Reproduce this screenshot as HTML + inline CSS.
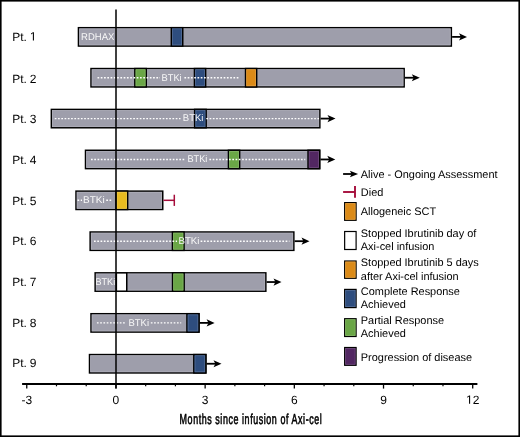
<!DOCTYPE html>
<html><head><meta charset="utf-8"><style>
html,body{margin:0;padding:0;background:#fff;}
body{width:520px;height:437px;overflow:hidden;}
svg{display:block;will-change:transform;text-rendering:geometricPrecision;font-family:"Liberation Sans",sans-serif;}
</style></head><body>
<svg width="520" height="437" viewBox="0 0 520 437">
<rect width="520" height="437" fill="#fff"/>
<rect x="78.45" y="27.70" width="372.90" height="18.35" fill="#9e9eab" stroke="#000" stroke-width="1.5"/>
<rect x="79.60" y="28.85" width="370.60" height="16.05" fill="none" stroke="#afafba" stroke-width="0.8"/>
<rect x="171.35" y="27.70" width="11.40" height="18.35" fill="#2e4d7e" stroke="#000" stroke-width="1.5"/>
<rect x="172.50" y="28.85" width="9.10" height="16.05" fill="none" stroke="#546d95" stroke-width="0.8"/>
<line x1="452.10" y1="36.88" x2="464.00" y2="36.88" stroke="#000" stroke-width="1.8"/>
<path d="M467.00,36.88 L459.00,33.27 L460.90,36.88 L459.00,40.48 Z" fill="#000"/>
<text x="12.25" y="40.50" font-size="12" fill="#000" >Pt.</text>
<path d="M515,0V1237L197,1010V1180L530,1409H696V0Z" fill="#000" transform="translate(29.856 40.500) scale(0.005859 -0.005859)"/>
<rect x="91.00" y="68.56" width="313.15" height="18.35" fill="#9e9eab" stroke="#000" stroke-width="1.5"/>
<rect x="92.15" y="69.71" width="310.85" height="16.05" fill="none" stroke="#afafba" stroke-width="0.8"/>
<rect x="134.85" y="68.56" width="11.40" height="18.35" fill="#6aa646" stroke="#000" stroke-width="1.5"/>
<rect x="136.00" y="69.71" width="9.10" height="16.05" fill="none" stroke="#85b667" stroke-width="0.8"/>
<rect x="194.45" y="68.56" width="11.20" height="18.35" fill="#2e4d7e" stroke="#000" stroke-width="1.5"/>
<rect x="195.60" y="69.71" width="8.90" height="16.05" fill="none" stroke="#546d95" stroke-width="0.8"/>
<rect x="245.55" y="68.56" width="11.10" height="18.35" fill="#db8a17" stroke="#000" stroke-width="1.5"/>
<rect x="246.70" y="69.71" width="8.80" height="16.05" fill="none" stroke="#e19f41" stroke-width="0.8"/>
<line x1="404.90" y1="77.73" x2="416.80" y2="77.73" stroke="#000" stroke-width="1.8"/>
<path d="M419.80,77.73 L411.80,74.14 L413.70,77.73 L411.80,81.33 Z" fill="#000"/>
<text x="12.25" y="82.85" font-size="12" fill="#000" word-spacing="-0.4">Pt. 2</text>
<rect x="51.35" y="109.42" width="268.50" height="18.35" fill="#9e9eab" stroke="#000" stroke-width="1.5"/>
<rect x="52.50" y="110.57" width="266.20" height="16.05" fill="none" stroke="#afafba" stroke-width="0.8"/>
<rect x="194.65" y="109.42" width="11.50" height="18.35" fill="#2e4d7e" stroke="#000" stroke-width="1.5"/>
<rect x="195.80" y="110.57" width="9.20" height="16.05" fill="none" stroke="#546d95" stroke-width="0.8"/>
<line x1="320.60" y1="118.59" x2="332.50" y2="118.59" stroke="#000" stroke-width="1.8"/>
<path d="M335.50,118.59 L327.50,115.00 L329.40,118.59 L327.50,122.19 Z" fill="#000"/>
<text x="12.25" y="123.20" font-size="12" fill="#000" word-spacing="-0.4">Pt. 3</text>
<rect x="85.50" y="150.28" width="234.15" height="18.35" fill="#9e9eab" stroke="#000" stroke-width="1.5"/>
<rect x="86.65" y="151.43" width="231.85" height="16.05" fill="none" stroke="#afafba" stroke-width="0.8"/>
<rect x="228.45" y="150.28" width="11.20" height="18.35" fill="#6aa646" stroke="#000" stroke-width="1.5"/>
<rect x="229.60" y="151.43" width="8.90" height="16.05" fill="none" stroke="#85b667" stroke-width="0.8"/>
<rect x="308.05" y="150.28" width="11.60" height="18.35" fill="#522762" stroke="#000" stroke-width="1.5"/>
<rect x="309.20" y="151.43" width="9.30" height="16.05" fill="none" stroke="#714e7e" stroke-width="0.8"/>
<line x1="320.40" y1="159.46" x2="332.30" y2="159.46" stroke="#000" stroke-width="1.8"/>
<path d="M335.30,159.46 L327.30,155.86 L329.20,159.46 L327.30,163.06 Z" fill="#000"/>
<text x="12.25" y="163.85" font-size="12" fill="#000" word-spacing="-0.4">Pt. 4</text>
<rect x="76.00" y="191.14" width="86.75" height="18.35" fill="#9e9eab" stroke="#000" stroke-width="1.5"/>
<rect x="77.15" y="192.29" width="84.45" height="16.05" fill="none" stroke="#afafba" stroke-width="0.8"/>
<rect x="116.00" y="191.14" width="11.65" height="18.35" fill="#e8bb20" stroke="#000" stroke-width="1.5"/>
<rect x="117.15" y="192.29" width="9.35" height="16.05" fill="none" stroke="#ecc748" stroke-width="0.8"/>
<line x1="163.50" y1="200.31" x2="175.00" y2="200.31" stroke="#a50d3b" stroke-width="1.5"/>
<line x1="174.30" y1="194.72" x2="174.30" y2="205.91" stroke="#a50d3b" stroke-width="1.5"/>
<text x="12.25" y="204.60" font-size="12" fill="#000" word-spacing="-0.4">Pt. 5</text>
<rect x="90.15" y="232.00" width="203.70" height="18.35" fill="#9e9eab" stroke="#000" stroke-width="1.5"/>
<rect x="91.30" y="233.15" width="201.40" height="16.05" fill="none" stroke="#afafba" stroke-width="0.8"/>
<rect x="172.45" y="232.00" width="11.60" height="18.35" fill="#6aa646" stroke="#000" stroke-width="1.5"/>
<rect x="173.60" y="233.15" width="9.30" height="16.05" fill="none" stroke="#85b667" stroke-width="0.8"/>
<line x1="294.60" y1="241.18" x2="306.50" y2="241.18" stroke="#000" stroke-width="1.8"/>
<path d="M309.50,241.18 L301.50,237.58 L303.40,241.18 L301.50,244.78 Z" fill="#000"/>
<text x="12.25" y="245.45" font-size="12" fill="#000" word-spacing="-0.4">Pt. 6</text>
<rect x="95.15" y="272.86" width="170.70" height="18.35" fill="#9e9eab" stroke="#000" stroke-width="1.5"/>
<rect x="96.30" y="274.01" width="168.40" height="16.05" fill="none" stroke="#afafba" stroke-width="0.8"/>
<rect x="116.35" y="272.86" width="10.40" height="18.35" fill="#ffffff" stroke="#000" stroke-width="1.5"/>
<rect x="172.55" y="272.86" width="11.60" height="18.35" fill="#6aa646" stroke="#000" stroke-width="1.5"/>
<rect x="173.70" y="274.01" width="9.30" height="16.05" fill="none" stroke="#85b667" stroke-width="0.8"/>
<line x1="266.60" y1="282.04" x2="278.50" y2="282.04" stroke="#000" stroke-width="1.8"/>
<path d="M281.50,282.04 L273.50,278.44 L275.40,282.04 L273.50,285.64 Z" fill="#000"/>
<text x="12.25" y="286.05" font-size="12" fill="#000" word-spacing="-0.4">Pt. 7</text>
<rect x="91.00" y="313.72" width="107.95" height="18.35" fill="#9e9eab" stroke="#000" stroke-width="1.5"/>
<rect x="92.15" y="314.87" width="105.65" height="16.05" fill="none" stroke="#afafba" stroke-width="0.8"/>
<rect x="186.95" y="313.72" width="12.00" height="18.35" fill="#2e4d7e" stroke="#000" stroke-width="1.5"/>
<rect x="188.10" y="314.87" width="9.70" height="16.05" fill="none" stroke="#546d95" stroke-width="0.8"/>
<line x1="199.70" y1="322.89" x2="211.60" y2="322.89" stroke="#000" stroke-width="1.8"/>
<path d="M214.60,322.89 L206.60,319.29 L208.50,322.89 L206.60,326.50 Z" fill="#000"/>
<text x="12.25" y="326.90" font-size="12" fill="#000" word-spacing="-0.4">Pt. 8</text>
<rect x="89.50" y="354.58" width="116.35" height="18.35" fill="#9e9eab" stroke="#000" stroke-width="1.5"/>
<rect x="90.65" y="355.73" width="114.05" height="16.05" fill="none" stroke="#afafba" stroke-width="0.8"/>
<rect x="193.85" y="354.58" width="12.00" height="18.35" fill="#2e4d7e" stroke="#000" stroke-width="1.5"/>
<rect x="195.00" y="355.73" width="9.70" height="16.05" fill="none" stroke="#546d95" stroke-width="0.8"/>
<line x1="206.60" y1="363.75" x2="218.50" y2="363.75" stroke="#000" stroke-width="1.8"/>
<path d="M221.50,363.75 L213.50,360.15 L215.40,363.75 L213.50,367.36 Z" fill="#000"/>
<text x="12.25" y="367.25" font-size="12" fill="#000" word-spacing="-0.4">Pt. 9</text>
<text x="81.10" y="39.73" font-size="9.75" fill="#f8f8f8" textLength="33.24" lengthAdjust="spacingAndGlyphs">RDHAX</text>
<line x1="97.50" y1="77.73" x2="160.00" y2="77.73" stroke="#fff" stroke-width="1.4" stroke-dasharray="1.7 1.57"/>
<line x1="184.40" y1="77.73" x2="239.40" y2="77.73" stroke="#fff" stroke-width="1.4" stroke-dasharray="1.7 1.57"/>
<text x="161.50" y="80.58" font-size="9.7" fill="#f8f8f8" textLength="20.20" lengthAdjust="spacingAndGlyphs">BTKi</text>
<line x1="54.75" y1="118.59" x2="180.50" y2="118.59" stroke="#fff" stroke-width="1.4" stroke-dasharray="1.7 1.57"/>
<line x1="206.30" y1="118.59" x2="319.00" y2="118.59" stroke="#fff" stroke-width="1.4" stroke-dasharray="1.7 1.57"/>
<text x="182.80" y="121.44" font-size="9.7" fill="#f8f8f8" textLength="20.60" lengthAdjust="spacingAndGlyphs">BTKi</text>
<line x1="91.00" y1="159.46" x2="185.60" y2="159.46" stroke="#fff" stroke-width="1.4" stroke-dasharray="1.7 1.57"/>
<line x1="209.40" y1="159.46" x2="305.30" y2="159.46" stroke="#fff" stroke-width="1.4" stroke-dasharray="1.7 1.57"/>
<text x="187.40" y="162.31" font-size="9.7" fill="#f8f8f8" textLength="20.00" lengthAdjust="spacingAndGlyphs">BTKi</text>
<line x1="77.50" y1="200.31" x2="82.00" y2="200.31" stroke="#fff" stroke-width="1.4" stroke-dasharray="1.7 1.57"/>
<line x1="106.25" y1="200.31" x2="112.00" y2="200.31" stroke="#fff" stroke-width="1.4" stroke-dasharray="1.7 1.57"/>
<text x="83.00" y="203.16" font-size="9.7" fill="#f8f8f8" textLength="21.67" lengthAdjust="spacingAndGlyphs">BTKi</text>
<line x1="94.00" y1="241.18" x2="177.00" y2="241.18" stroke="#fff" stroke-width="1.4" stroke-dasharray="1.7 1.57"/>
<line x1="200.60" y1="241.18" x2="289.40" y2="241.18" stroke="#fff" stroke-width="1.4" stroke-dasharray="1.7 1.57"/>
<text x="178.50" y="244.03" font-size="9.7" fill="#f8f8f8" textLength="20.97" lengthAdjust="spacingAndGlyphs">BTKi</text>
<text x="95.45" y="284.89" font-size="9.7" fill="#f8f8f8" textLength="19.80" lengthAdjust="spacingAndGlyphs">BTKi</text>
<line x1="96.90" y1="322.89" x2="126.25" y2="322.89" stroke="#fff" stroke-width="1.4" stroke-dasharray="1.7 1.57"/>
<line x1="150.80" y1="322.89" x2="181.20" y2="322.89" stroke="#fff" stroke-width="1.4" stroke-dasharray="1.7 1.57"/>
<text x="128.50" y="325.75" font-size="9.7" fill="#f8f8f8" textLength="20.50" lengthAdjust="spacingAndGlyphs">BTKi</text>
<line x1="116" y1="9.6" x2="116" y2="388.6" stroke="#000" stroke-width="1.5"/>
<line x1="22.1" y1="383.95" x2="477.4" y2="383.95" stroke="#000" stroke-width="2"/>
<line x1="26.76" y1="383" x2="26.76" y2="388.6" stroke="#000" stroke-width="1.3"/>
<text x="26.76" y="403.7" font-size="12" text-anchor="middle">-3</text>
<line x1="56.49" y1="383" x2="56.49" y2="386.3" stroke="#000" stroke-width="1.2"/>
<line x1="86.22" y1="383" x2="86.22" y2="386.3" stroke="#000" stroke-width="1.2"/>
<line x1="115.95" y1="383" x2="115.95" y2="388.6" stroke="#000" stroke-width="1.3"/>
<text x="115.95" y="403.7" font-size="12" text-anchor="middle">0</text>
<line x1="145.68" y1="383" x2="145.68" y2="386.3" stroke="#000" stroke-width="1.2"/>
<line x1="175.41" y1="383" x2="175.41" y2="386.3" stroke="#000" stroke-width="1.2"/>
<line x1="205.14" y1="383" x2="205.14" y2="388.6" stroke="#000" stroke-width="1.3"/>
<text x="205.14" y="403.7" font-size="12" text-anchor="middle">3</text>
<line x1="234.87" y1="383" x2="234.87" y2="386.3" stroke="#000" stroke-width="1.2"/>
<line x1="264.60" y1="383" x2="264.60" y2="386.3" stroke="#000" stroke-width="1.2"/>
<line x1="294.33" y1="383" x2="294.33" y2="388.6" stroke="#000" stroke-width="1.3"/>
<text x="294.33" y="403.7" font-size="12" text-anchor="middle">6</text>
<line x1="324.06" y1="383" x2="324.06" y2="386.3" stroke="#000" stroke-width="1.2"/>
<line x1="353.79" y1="383" x2="353.79" y2="386.3" stroke="#000" stroke-width="1.2"/>
<line x1="383.52" y1="383" x2="383.52" y2="388.6" stroke="#000" stroke-width="1.3"/>
<text x="383.52" y="403.7" font-size="12" text-anchor="middle">9</text>
<line x1="413.25" y1="383" x2="413.25" y2="386.3" stroke="#000" stroke-width="1.2"/>
<line x1="442.98" y1="383" x2="442.98" y2="386.3" stroke="#000" stroke-width="1.2"/>
<line x1="472.71" y1="383" x2="472.71" y2="388.6" stroke="#000" stroke-width="1.3"/>
<path d="M515,0V1237L197,1010V1180L530,1409H696V0Z" fill="#000" transform="translate(466.036 403.700) scale(0.005859 -0.005859)"/>
<text x="472.71" y="403.7" font-size="12">2</text>
<line x1="343.10" y1="174.00" x2="355.10" y2="174.00" stroke="#000" stroke-width="1.8"/>
<path d="M358.10,174.00 L349.90,170.70 L351.60,174.00 L349.90,177.30 Z" fill="#000"/>
<line x1="343.1" y1="192" x2="355" y2="192" stroke="#a50d3b" stroke-width="1.9"/>
<line x1="355" y1="186.1" x2="355" y2="197.8" stroke="#a50d3b" stroke-width="1.9"/>
<rect x="344.65" y="202.60" width="11.45" height="17.70" fill="#db8a17" stroke="#000" stroke-width="1.2"/>
<rect x="345.65" y="203.60" width="9.45" height="15.70" fill="none" stroke="#e19f41" stroke-width="0.8"/>
<rect x="344.65" y="231.50" width="11.45" height="18.00" fill="#ffffff" stroke="#000" stroke-width="1.2"/>
<rect x="344.65" y="261.00" width="11.45" height="17.30" fill="#db8a17" stroke="#000" stroke-width="1.2"/>
<rect x="345.65" y="262.00" width="9.45" height="15.30" fill="none" stroke="#e19f41" stroke-width="0.8"/>
<rect x="344.65" y="289.40" width="11.45" height="18.20" fill="#2e4d7e" stroke="#000" stroke-width="1.2"/>
<rect x="345.65" y="290.40" width="9.45" height="16.20" fill="none" stroke="#546d95" stroke-width="0.8"/>
<rect x="344.65" y="318.70" width="11.45" height="17.80" fill="#6aa646" stroke="#000" stroke-width="1.2"/>
<rect x="345.65" y="319.70" width="9.45" height="15.80" fill="none" stroke="#85b667" stroke-width="0.8"/>
<rect x="344.65" y="347.50" width="11.45" height="17.80" fill="#522762" stroke="#000" stroke-width="1.2"/>
<rect x="345.65" y="348.50" width="9.45" height="15.80" fill="none" stroke="#714e7e" stroke-width="0.8"/>
<text x="360.8" y="178.10" font-size="10.95">Alive - Ongoing Assessment</text>
<text x="360.8" y="195.80" font-size="10.95">Died</text>
<text x="360.8" y="215.00" font-size="10.95">Allogeneic SCT</text>
<text x="360.8" y="237.00" font-size="10.95">Stopped Ibrutinib day of</text>
<text x="360.8" y="250.10" font-size="10.95">Axi-cel infusion</text>
<text x="360.8" y="266.20" font-size="10.95">Stopped Ibrutinib 5 days</text>
<text x="360.8" y="279.60" font-size="10.95">after Axi-cel infusion</text>
<text x="360.8" y="295.00" font-size="10.95">Complete Response</text>
<text x="360.8" y="308.40" font-size="10.95">Achieved</text>
<text x="360.8" y="323.80" font-size="10.95">Partial Response</text>
<text x="360.8" y="337.00" font-size="10.95">Achieved</text>
<text x="360.8" y="360.50" font-size="10.95">Progression of disease</text>
<text x="0" y="0" font-size="14.4" letter-spacing="0.92" stroke="#000" stroke-width="0.6" transform="translate(179.6 423.6) scale(0.62 1)">Months since infusion of Axi-cel</text>
<rect x="0" y="0" width="1.6" height="437" fill="#000"/><rect x="0" y="0" width="520" height="1.6" fill="#000"/><rect x="518.4" y="0" width="1.6" height="437" fill="#000"/><rect x="0" y="435.4" width="520" height="1.6" fill="#000"/>
</svg>
</body></html>
